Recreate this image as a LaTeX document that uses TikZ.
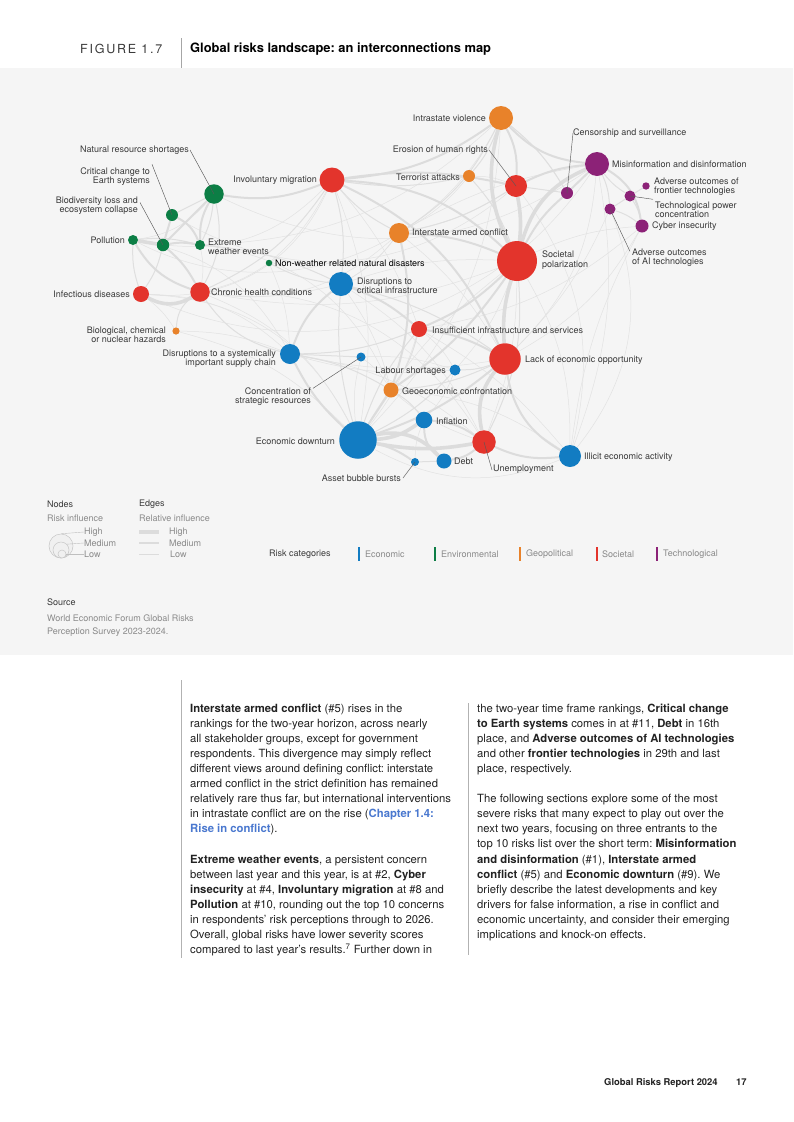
\documentclass[tikz,border=0pt]{standalone}
\usepackage{fontspec}
\setmainfont{TeX Gyre Heros}
\frenchspacing
\definecolor{panel}{HTML}{F5F5F5}
\definecolor{ecoC}{HTML}{127CC2}
\definecolor{envC}{HTML}{0C7E45}
\definecolor{geoC}{HTML}{E8822A}
\definecolor{socC}{HTML}{E3342C}
\definecolor{tecC}{HTML}{8C2277}
\definecolor{labgray}{HTML}{3A3A3A}
\definecolor{lightgray}{HTML}{8A8A8A}
\definecolor{edgeA}{HTML}{DCDCDC}
\definecolor{edgeB}{HTML}{DFDFDF}
\definecolor{edgeC}{HTML}{E2E2E2}
\definecolor{linkC}{HTML}{4A78CF}
\definecolor{bodyC}{HTML}{222222}
\pgfdeclarelayer{back}
\pgfdeclarelayer{edges}
\pgfsetlayers{back,edges,main}
\tikzset{
  rk/.style={circle, inner sep=0pt, draw=none},
  eco/.style={rk, fill=ecoC},
  env/.style={rk, fill=envC},
  geo/.style={rk, fill=geoC},
  soc/.style={rk, fill=socC},
  tec/.style={rk, fill=tecC},
  lab/.style={font=\fontsize{9}{9.3}\selectfont, text=labgray, inner sep=0pt},
  leader/.style={draw=labgray!85, line width=0.45pt},
  eT/.style={draw=edgeA, line width=3.6pt},
  eM/.style={draw=edgeA, line width=2pt},
  eS/.style={draw=edgeB, line width=1pt},
  eH/.style={draw=edgeC, line width=0.5pt},
  body/.style={font=\fontsize{11.3}{15.1}\selectfont, text=bodyC, inner sep=0pt, anchor=base west},
  leg/.style={font=\fontsize{9}{11}\selectfont, inner sep=0pt, anchor=west},
}
\begin{document}
\begin{tikzpicture}[x=1pt,y=-1pt]
\useasboundingbox (0,0) rectangle (793,1122);
\begin{pgfonlayer}{back}
\fill[white] (0,0) rectangle (793,1122);
\fill[panel] (0,68) rectangle (793,655);
\end{pgfonlayer}
% header
\draw[draw=gray!70, line width=0.7pt] (181,38) -- (181,68);
\node[font=\fontsize{12.5}{14}\selectfont\addfontfeature{LetterSpace=14}, text=labgray, inner sep=0pt, anchor=west] (fig) at (80,49) {FIGURE 1.7};
\node[font=\fontsize{12.9}{14}\selectfont\bfseries, text=black, inner sep=0pt, anchor=west] (title) at (190,49) {Global risks landscape: an interconnections map};

% nodes
\node[geo, minimum size=24pt] (iv) at (501,118) {};
\node[tec, minimum size=12pt] (cs) at (567,193) {};
\node[soc, minimum size=22pt] (ehr) at (516,186) {};
\node[geo, minimum size=12pt] (ta) at (469,176) {};
\node[tec, minimum size=24pt] (mis) at (597,164) {};
\node[tec, minimum size=7.4pt] (aof) at (646,186) {};
\node[tec, minimum size=11pt] (tpc) at (630,196) {};
\node[tec, minimum size=13pt] (ci) at (642,226) {};
\node[tec, minimum size=11pt] (aai) at (610,209) {};
\node[soc, minimum size=40pt] (sp) at (517,261) {};
\node[geo, minimum size=20pt] (iac) at (399,233) {};
\node[soc, minimum size=25pt] (im) at (332,180) {};
\node[env, minimum size=19.5pt] (nrs) at (214,194) {};
\node[env, minimum size=12pt] (cce) at (172,215) {};
\node[env, minimum size=12.5pt] (bio) at (163,245) {};
\node[env, minimum size=10pt] (pol) at (133,240) {};
\node[env, minimum size=10pt] (ewe) at (200,245) {};
\node[env, minimum size=6.5pt] (nwd) at (269,263) {};
\node[soc, minimum size=16pt] (inf) at (141,294) {};
\node[soc, minimum size=19.5pt] (chc) at (200,292) {};
\node[eco, minimum size=24pt] (dci) at (341,284) {};
\node[geo, minimum size=7.2pt] (bcn) at (176,331) {};
\node[eco, minimum size=20pt] (dsc) at (290,354) {};
\node[eco, minimum size=9pt] (csr) at (361,357) {};
\node[soc, minimum size=16pt] (iis) at (419,329) {};
\node[soc, minimum size=31.5pt] (leo) at (505,359) {};
\node[eco, minimum size=11pt] (ls) at (455,370) {};
\node[geo, minimum size=15pt] (gc) at (391,390) {};
\node[eco, minimum size=16.6pt] (infl) at (424,420) {};
\node[eco, minimum size=37.5pt] (ed) at (358,440) {};
\node[soc, minimum size=23.5pt] (un) at (484,442) {};
\node[eco, minimum size=22pt] (iea) at (570,456) {};
\node[eco, minimum size=15pt] (debt) at (444,461) {};
\node[eco, minimum size=8pt] (abb) at (415,462) {};

% edges
\begin{pgfonlayer}{edges}
% hairlines
\draw[eH] (pol) to[bend right=45] (iv);
\draw[eH] (inf) to[bend right=40] (mis);
\draw[eH] (nrs) to[bend right=30] (mis);
\draw[eH] (cce) to[bend right=35] (ehr);
\draw[eH] (chc) to[bend right=15] (sp);
\draw[eH] (chc) to[bend right=25] (iac);
\draw[eH] (bcn) to[bend left=10] (dsc);
\draw[eH] (bcn) to[bend left=15] (ed);
\draw[eH] (bcn) to[bend right=10] (inf);
\draw[eH] (inf) to[bend left=30] (ed);
\draw[eH] (inf) to[bend left=20] (dsc);
\draw[eH] (dsc) to[bend left=15] (un);
\draw[eH] (dsc) to[bend right=10] (leo);
\draw[eH] (iea) to[bend left=10] (ci);
\draw[eH] (iea) to[bend right=15] (mis);
\draw[eH] (iea) to[bend right=30] (aai);
\draw[eH] (leo) to[bend right=15] (ci);
\draw[eH] (leo) to[bend right=10] (aai);
\draw[eH] (sp) to[bend left=10] (ci);
\draw[eH] (iea) to[bend right=15] (sp);
\draw[eH] (iea) to[bend left=25] (ed);
\draw[eH] (iea) to[bend right=10] (iis);
\draw[eH] (un) to[bend right=10] (sp);
\draw[eH] (dci) to[bend left=10] (sp);
\draw[eH] (dci) to[bend left=10] (gc);
\draw[eH] (iis) to[bend left=10] (ed);
\draw[eH] (ls) to[bend left=10] (infl);
\draw[eH] (ls) to[bend right=10] (iis);
\draw[eH] (csr) to[bend left=10] (gc);
\draw[eH] (csr) to[bend right=10] (ed);
\draw[eH] (csr) to[bend left=10] (ls);
\draw[eH] (nwd) to[bend left=10] (chc);
\draw[eH] (nwd) to[bend right=10] (im);
\draw[eH] (nwd) to[bend left=10] (dsc);
\draw[eH] (chc) to[bend right=10] (dci);
\draw[eH] (chc) to[bend left=20] (ed);
\draw[eH] (ta) to[bend left=10] (ehr);
\draw[eH] (ta) to[bend left=10] (iac);
\draw[eH] (iac) to[bend right=10] (ehr);
\draw[eH] (iac) to[bend left=10] (dci);
\draw[eH] (iac) to[bend left=10] (leo);
\draw[eH] (bio) to[bend right=25] (im);
\draw[eH] (pol) to[bend right=20] (nrs);
\draw[eH] (ewe) to[bend left=10] (chc);
\draw[eH] (ewe) to[bend right=20] (iv);
\draw[eH] (im) to[bend left=15] (ed);
\draw[eH] (im) to[bend left=10] (iis);
\draw[eH] (mis) to[bend right=10] (iac);
\draw[eH] (mis) to[bend left=20] (leo);
\draw[eH] (cs) to[bend right=10] (iv);
\draw[eH] (ci) to[bend left=15] (iis);
\draw[eH] (gc) to[bend right=10] (un);
\draw[eH] (gc) to[bend left=15] (iea);
\draw[eH] (ed) to[bend left=10] (sp);
\draw[eH] (dsc) to[bend right=10] (ls);
\draw[eH] (dci) to[bend left=15] (un);
\draw[eH] (dci) to[bend right=10] (iac);
\draw[eH] (ls) to[bend right=10] (sp);
\draw[eH] (abb) to[bend left=10] (infl);
\draw[eH] (ewe) to[bend left=30] (gc);
\draw[eH] (inf) to[bend right=35] (im);
\draw[eH] (pol) to[bend left=25] (dsc);
\draw[eH] (chc) to[bend left=30] (un);
\draw[eH] (ed) to[bend right=20] (iv);
\draw[eH] (iea) to[bend right=25] (ehr);
% small
\draw[eS] (ta) to[bend right=10] (iv);
\draw[eS] (ta) to[bend left=10] (im);
\draw[eS] (ta) to[bend left=10] (sp);
\draw[eS] (iac) to[bend left=10] (im);
\draw[eS] (iac) to[bend right=15] (iv);
\draw[eS] (im) to[bend left=10] (dci);
\draw[eS] (im) to[bend left=15] (chc);
\draw[eS] (dci) to[bend right=10] (ewe);
\draw[eS] (dci) to[bend left=10] (leo);
\draw[eS] (mis) to[bend left=10] (aai);
\draw[eS] (mis) to[bend right=10] (tpc);
\draw[eS] (aai) -- (tpc);
\draw[eS] (aai) to[bend left=10] (ci);
\draw[eS] (tpc) -- (aof);
\draw[eS] (tpc) to[bend left=10] (ci);
\draw[eS] (cs) -- (ehr);
\draw[eS] (leo) to[bend left=10] (ls);
\draw[eS] (ed) to[bend left=10] (iis);
\draw[eS] (ed) to[bend right=10] (ls);
\draw[eS] (ed) to[bend left=10] (dci);
\draw[eS] (debt) -- (abb);
\draw[eS] (dsc) to[bend left=10] (gc);
\draw[eS] (dsc) -- (csr);
\draw[eS] (dsc) to[bend left=20] (chc);
\draw[eS] (dsc) to[bend right=10] (iis);
\draw[eS] (iis) to[bend left=10] (gc);
\draw[eS] (nrs) -- (cce);
\draw[eS] (nrs) to[bend left=10] (ewe);
\draw[eS] (nrs) to[bend left=20] (chc);
\draw[eS] (pol) to[bend left=10] (ewe);
\draw[eS] (inf) to[bend left=10] (pol);
\draw[eS] (inf) to[bend right=10] (bio);
\draw[eS] (bcn) to[bend left=25] (chc);
\draw[eS] (nwd) to[bend right=10] (dci);
\draw[eS] (sp) to[bend left=15] (un);
\draw[eS] (gc) to[bend right=10] (leo);
\draw[eS] (gc) to[bend left=10] (infl);
\draw[eS] (iv) to[bend left=10] (cs);
\draw[eS] (ehr) to[bend left=10] (iac);
% medium
\draw[eM] (iv) to[bend left=15] (ehr);
\draw[eM] (im) to[bend right=15] (iv);
\draw[eM] (iv) to[bend right=20] (mis);
\draw[eM] (ehr) to[bend left=10] (mis);
\draw[eM] (mis) -- (cs);
\draw[eM] (mis) to[bend left=25] (ci);
\draw[eM] (cs) to[bend right=10] (sp);
\draw[eM] (iac) to[bend left=10] (sp);
\draw[eM] (iac) to[bend left=15] (gc);
\draw[eM] (im) to[bend left=20] (sp);
\draw[eM] (im) to[bend left=20] (leo);
\draw[eM] (nrs) to[bend right=15] (im);
\draw[eM] (sp) to[bend left=10] (iis);
\draw[eM] (sp) to[bend left=10] (gc);
\draw[eM] (leo) to[bend right=25] (iea);
\draw[eM] (leo) to[bend right=10] (iis);
\draw[eM] (leo) to[bend left=10] (ed);
\draw[eM] (un) to[bend right=15] (iea);
\draw[eM] (un) to[bend right=15] (infl);
\draw[eM] (un) to[bend left=15] (debt);
\draw[eM] (ed) -- (gc);
\draw[eM] (ed) to[bend left=10] (dsc);
\draw[eM] (ed) to[bend left=10] (abb);
\draw[eM] (infl) to[bend right=25] (debt);
\draw[eM] (dsc) to[bend left=15] (dci);
\draw[eM] (dci) to[bend left=10] (iis);
\draw[eM] (nrs) -- (bio);
\draw[eM] (cce) -- (bio);
\draw[eM] (cce) to[bend left=20] (ewe);
\draw[eM] (pol) to[bend right=20] (chc);
\draw[eM] (bio) to[bend left=10] (ewe);
\draw[eM] (bio) to[bend left=10] (chc);
\draw[eM] (ewe) to[bend left=15] (nrs);
\draw[eM] (im) to[bend left=10] (ehr);
% thick
\draw[eT] (iv) to[bend right=20] (sp);
\draw[eT] (ehr) to[bend left=8] (sp);
\draw[eT] (mis) to[bend right=25] (sp);
\draw[eT] (pol) -- (bio);
\draw[eT] (inf) to[bend right=30] (chc);
\draw[eT] (ed) to[bend right=15] (infl);
\draw[eT] (ed) to[bend left=30] (debt);
\draw[eT] (ed) to[bend right=10] (un);
\draw[eT] (un) to[bend left=25] (leo);
\draw[eT] (leo) to[bend left=10] (sp);
\end{pgfonlayer}

% labels
\node[lab, anchor=east] (iv-l) at (486,118) {Intrastate violence};
\node[lab, anchor=west] (cs-l) at (573,133) {Censorship and surveillance};
\node[lab, anchor=east] (ehr-l) at (488,150) {Erosion of human rights};
\node[lab, anchor=east] (ta-l) at (460,177) {Terrorist attacks};
\node[lab, anchor=west] (mis-l) at (612,164) {Misinformation and disinformation};
\node[lab, anchor=west, align=left] (aof-l) at (654,186.5) {Adverse outcomes of\\frontier technologies};
\node[lab, anchor=west, align=left] (tpc-l) at (655,209.5) {Technological power\\concentration};
\node[lab, anchor=west] (ci-l) at (652,226) {Cyber insecurity};
\node[lab, anchor=west, align=left] (aai-l) at (632,257.5) {Adverse outcomes\\of AI technologies};
\node[lab, anchor=west, align=left] (sp-l) at (542,260) {Societal\\polarization};
\node[lab, anchor=west] (iac-l) at (412,232) {Interstate armed conflict};
\node[lab, anchor=east] (im-l) at (317,180) {Involuntary migration};
\node[lab, anchor=east] (nrs-l) at (189,150) {Natural resource shortages};
\node[lab, anchor=east, align=right] (cce-l) at (150,176.5) {Critical change to\\Earth systems};
\node[lab, anchor=east, align=right] (bio-l) at (138,205.5) {Biodiversity loss and\\ecosystem collapse};
\node[lab, anchor=east] (pol-l) at (125,240) {Pollution};
\node[lab, anchor=west, align=left] (ewe-l) at (208,246.5) {Extreme\\weather events};
\node[lab, anchor=west, text=black] (nwd-l) at (275,263) {Non-weather related natural disasters};
\node[lab, anchor=east] (inf-l) at (130,294) {Infectious diseases};
\node[lab, anchor=west] (chc-l) at (211,292) {Chronic health conditions};
\node[lab, anchor=west, align=left] (dci-l) at (357,285.5) {Disruptions to\\critical infrastructure};
\node[lab, anchor=east, align=right] (bcn-l) at (166,335) {Biological, chemical\\or nuclear hazards};
\node[lab, anchor=east, align=right] (dsc-l) at (276,358.5) {Disruptions to a systemically\\important supply chain};
\node[lab, anchor=east, align=right] (csr-l) at (311,396.5) {Concentration of\\strategic resources};
\node[lab, anchor=west] (iis-l) at (432,330) {Insufficient infrastructure and services};
\node[lab, anchor=west] (leo-l) at (525,360) {Lack of economic opportunity};
\node[lab, anchor=east] (ls-l) at (446,371) {Labour shortages};
\node[lab, anchor=west] (gc-l) at (402,391) {Geoeconomic confrontation};
\node[lab, anchor=west] (infl-l) at (436,421) {Inflation};
\node[lab, anchor=east] (ed-l) at (335,441) {Economic downturn};
\node[lab, anchor=west] (un-l) at (493,469) {Unemployment};
\node[lab, anchor=west] (iea-l) at (584,457) {Illicit economic activity};
\node[lab, anchor=west] (debt-l) at (454,461) {Debt};
\node[lab, anchor=east] (abb-l) at (401,478) {Asset bubble bursts};

% leader lines
\draw[leader] (cs-l.west) -- (cs.center);
\draw[leader] ([xshift=1pt]ehr-l.east) -- (ehr.center);
\draw[leader] (tpc.center) -- ([xshift=-2pt,yshift=2pt]tpc-l.north west);
\draw[leader] (aai.center) -- ([xshift=-2pt,yshift=-3pt]aai-l.north west);
\draw[leader] ([xshift=1pt]nrs-l.east) -- (nrs.center);
\draw[leader] ([xshift=2pt,yshift=3pt]cce-l.north east) -- (cce.center);
\draw[leader] ([xshift=2pt,yshift=3pt]bio-l.east) -- (bio.center);
\draw[leader] ([xshift=2pt,yshift=-1pt]csr-l.north east) -- (csr.center);
\draw[leader] (un.center) -- ([xshift=-1pt,yshift=-1pt]un-l.west);
\draw[leader] ([xshift=2pt]abb-l.east) -- (abb.center);

% legend
\node[leg, text=labgray] (ln) at (47,504) {Nodes};
\node[leg, text=lightgray] (lri) at (47,518) {Risk influence};
\node[circle, draw=gray!45, fill=gray!12, line width=0.5pt, minimum size=24pt, inner sep=0pt] (cH) at (61,546) {};
\node[circle, draw=gray!45, fill=gray!12, line width=0.5pt, minimum size=16pt, inner sep=0pt] (cM) at (61,550) {};
\node[circle, draw=gray!45, fill=gray!12, line width=0.5pt, minimum size=8pt, inner sep=0pt] (cL) at (62,554) {};
\node[leg, text=lightgray] (lH) at (84,532) {High};
\node[leg, text=lightgray] (lM) at (84,543) {Medium};
\node[leg, text=lightgray] (lL) at (84,554) {Low};
\draw[draw=gray!50, line width=0.4pt] (cH.north) -- (lH.west);
\draw[draw=gray!50, line width=0.4pt] (cM.north east) -- (lM.west);
\draw[draw=gray!50, line width=0.4pt] (cL.east) -- (lL.west);
\node[leg, text=labgray] (le) at (139,504) {Edges};
\node[leg, text=lightgray] (lri2) at (139,518) {Relative influence};
\coordinate (eh1) at (139,532); \coordinate (eh2) at (159,532);
\coordinate (em1) at (139,543); \coordinate (em2) at (159,543);
\coordinate (el1) at (139,554); \coordinate (el2) at (159,554);
\draw[draw=edgeA, line width=3.5pt] (eh1) -- (eh2);
\draw[draw=edgeA, line width=2pt] (em1) -- (em2);
\draw[draw=edgeA, line width=0.8pt] (el1) -- (el2);
\node[leg, text=lightgray] (leH) at (169,532) {High};
\node[leg, text=lightgray] (leM) at (169,543) {Medium};
\node[leg, text=lightgray] (leL) at (170,554) {Low};
\node[leg, text=labgray] (rc) at (269,554) {Risk categories};
\fill[ecoC] (358,547) rectangle (360.2,561);
\node[leg, text=lightgray] (rc1) at (365,554) {Economic};
\fill[envC] (434,547) rectangle (436.2,561);
\node[leg, text=lightgray] (rc2) at (441,554) {Environmental};
\fill[geoC] (519,547) rectangle (521.2,561);
\node[leg, text=lightgray] (rc3) at (526,554) {Geopolitical};
\fill[socC] (596,547) rectangle (598.2,561);
\node[leg, text=lightgray] (rc4) at (602,554) {Societal};
\fill[tecC] (656,547) rectangle (658.2,561);
\node[leg, text=lightgray] (rc5) at (663,554) {Technological};
\node[leg, text=labgray] (src) at (47,602) {Source};
\node[leg, text=lightgray] (src1) at (47,618) {World Economic Forum Global Risks};
\node[leg, text=lightgray] (src2) at (47,632) {Perception Survey 2023-2024.};

% body columns
\draw[draw=gray!60, line width=0.6pt] (181,680) -- (181,958);
\draw[draw=gray!60, line width=0.6pt] (468,703) -- (468,955);
\node[body] (a1) at (190,712) {\textbf{Interstate armed conflict} (\#5) rises in the};
\node[body] (a2) at (190,727.1) {rankings for the two-year horizon, across nearly};
\node[body] (a3) at (190,742.2) {all stakeholder groups, except for government};
\node[body] (a4) at (190,757.3) {respondents. This divergence may simply reflect};
\node[body] (a5) at (190,772.4) {different views around defining conflict: interstate};
\node[body] (a6) at (190,787.5) {armed conflict in the strict definition has remained};
\node[body] (a7) at (190,802.6) {relatively rare thus far, but international interventions};
\node[body] (a8) at (190,817.7) {in intrastate conflict are on the rise (\textcolor{linkC}{\textbf{Chapter 1.4:}}};
\node[body] (a9) at (190,832.8) {\textcolor{linkC}{\textbf{Rise in conflict}}).};
\node[body] (b1) at (190,863) {\textbf{Extreme weather events}, a persistent concern};
\node[body] (b2) at (190,878.1) {between last year and this year, is at \#2, \textbf{Cyber}};
\node[body] (b3) at (190,893.2) {\textbf{insecurity} at \#4, \textbf{Involuntary migration} at \#8 and};
\node[body] (b4) at (190,908.3) {\textbf{Pollution} at \#10, rounding out the top 10 concerns};
\node[body] (b5) at (190,923.4) {in respondents’ risk perceptions through to 2026.};
\node[body] (b6) at (190,938.5) {Overall, global risks have lower severity scores};
\node[body] (b7) at (190,953.6) {compared to last year’s results.\textsuperscript{7} Further down in};
\node[body] (c1) at (477,712) {the two-year time frame rankings, \textbf{Critical change}};
\node[body] (c2) at (477,727.1) {\textbf{to Earth systems} comes in at \#11, \textbf{Debt} in 16th};
\node[body] (c3) at (477,742.2) {place, and \textbf{Adverse outcomes of AI technologies}};
\node[body] (c4) at (477,757.3) {and other \textbf{frontier technologies} in 29th and last};
\node[body] (c5) at (477,772.4) {place, respectively.};
\node[body] (d1) at (477,802.6) {The following sections explore some of the most};
\node[body] (d2) at (477,817.7) {severe risks that many expect to play out over the};
\node[body] (d3) at (477,832.8) {next two years, focusing on three entrants to the};
\node[body] (d4) at (477,847.9) {top 10 risks list over the short term: \textbf{Misinformation}};
\node[body] (d5) at (477,863) {\textbf{and disinformation} (\#1), \textbf{Interstate armed}};
\node[body] (d6) at (477,878.1) {\textbf{conflict} (\#5) and \textbf{Economic downturn} (\#9). We};
\node[body] (d7) at (477,893.2) {briefly describe the latest developments and key};
\node[body] (d8) at (477,908.3) {drivers for false information, a rise in conflict and};
\node[body] (d9) at (477,923.4) {economic uncertainty, and consider their emerging};
\node[body] (d10) at (477,938.5) {implications and knock-on effects.};
\node[font=\fontsize{9.4}{11}\selectfont\bfseries, text=bodyC, inner sep=0pt, anchor=base west] (foot) at (604,1085) {Global Risks Report 2024};
\node[font=\fontsize{9.4}{11}\selectfont\bfseries, text=bodyC, inner sep=0pt, anchor=base west] (page) at (736,1085) {17};
\end{tikzpicture}
\end{document}
